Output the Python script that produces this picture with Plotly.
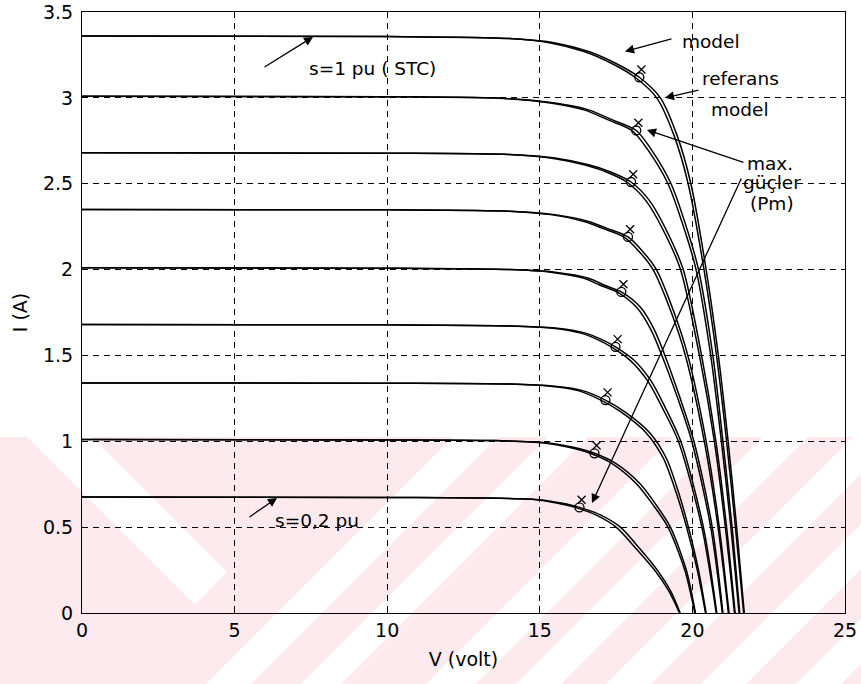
import plotly.graph_objects as go

# Irradiance levels (per unit of STC)
S_LEVELS = [0.2, 0.3, 0.4, 0.5, 0.6, 0.7, 0.8, 0.9, 1.0]

# Current samples of each I-V curve (A)
CURVE_I = [
    [0.675, 0.673, 0.670, 0.660, 0.640, 0.615, 0.570, 0.500, 0.370, 0.250, 0.130, 0.0],
    [1.01, 1.008, 1.004, 0.99, 0.965, 0.93, 0.87, 0.75, 0.62, 0.50, 0.25, 0.0],
    [1.34, 1.338, 1.333, 1.32, 1.295, 1.24, 1.17, 1.05, 0.90, 0.70, 0.50, 0.25, 0.0],
    [1.68, 1.678, 1.672, 1.66, 1.63, 1.595, 1.55, 1.47, 1.35, 1.20, 1.00, 0.50, 0.0],
    [2.01, 2.008, 2.00, 1.985, 1.95, 1.91, 1.87, 1.78, 1.65, 1.50, 1.25, 1.00, 0.50, 0.0],
    [2.35, 2.348, 2.34, 2.32, 2.28, 2.24, 2.19, 2.10, 2.00, 1.75, 1.50, 1.00, 0.50, 0.0],
    [2.68, 2.678, 2.67, 2.65, 2.61, 2.57, 2.51, 2.40, 2.21, 2.00, 1.50, 1.00, 0.50, 0.0],
    [3.01, 3.007, 2.995, 2.97, 2.93, 2.87, 2.81, 2.70, 2.50, 2.21, 2.00, 1.50, 1.00, 0.50, 0.0],
    [3.36, 3.357, 3.345, 3.32, 3.27, 3.20, 3.12, 3.00, 2.78, 2.50, 2.00, 1.50, 1.00, 0.50, 0.0],
]

# Voltage samples, "model"
MODEL_V = [
    [0, 10, 13, 15.0, 15.7, 16.3, 17.0, 17.64, 18.3, 18.85, 19.28, 19.6],
    [0, 10, 13.5, 15.3, 16.1, 16.79, 17.5, 18.3, 18.85, 19.28, 19.8, 20.1],
    [0, 10, 14, 15.5, 16.4, 17.15, 17.8, 18.6, 19.15, 19.55, 19.87, 20.2, 20.45],
    [0, 10, 14, 15.5, 16.5, 17.0, 17.48, 18.1, 18.65, 19.1, 19.62, 20.36, 20.8],
    [0, 10, 14, 15.5, 16.6, 17.1, 17.67, 18.3, 18.75, 19.1, 19.6, 20.05, 20.65, 21.0],
    [0, 10, 14, 15.5, 16.6, 17.2, 17.89, 18.4, 18.82, 19.4, 19.85, 20.45, 20.88, 21.2],
    [0, 10, 14, 15.5, 16.6, 17.3, 17.99, 18.6, 19.2, 19.7, 20.3, 20.77, 21.12, 21.4],
    [0, 10, 14, 15.5, 16.6, 17.4, 18.16, 18.65, 19.3, 19.87, 20.2, 20.67, 21.0, 21.3, 21.55],
    [0, 10, 14, 15.5, 16.6, 17.5, 18.26, 18.95, 19.5, 19.95, 20.45, 20.85, 21.17, 21.45, 21.7],
]

# Voltage samples, "referans model"
REF_V = [
    [0, 10, 13, 14.9, 15.55, 16.15, 16.85, 17.5, 18.18, 18.76, 19.22, 19.58],
    [0, 10, 13.5, 15.15, 15.95, 16.65, 17.37, 18.18, 18.75, 19.2, 19.75, 20.08],
    [0, 10, 14, 15.35, 16.25, 17.0, 17.67, 18.48, 19.05, 19.47, 19.81, 20.16, 20.43],
    [0, 10, 14, 15.35, 16.35, 16.86, 17.34, 17.97, 18.54, 19.0, 19.54, 20.31, 20.78],
    [0, 10, 14, 15.35, 16.45, 16.96, 17.53, 18.17, 18.64, 19.0, 19.52, 19.98, 20.6, 20.98],
    [0, 10, 14, 15.35, 16.45, 17.06, 17.75, 18.28, 18.71, 19.31, 19.77, 20.39, 20.84, 21.18],
    [0, 10, 14, 15.35, 16.45, 17.16, 17.85, 18.48, 19.1, 19.61, 20.23, 20.72, 21.08, 21.38],
    [0, 10, 14, 15.35, 16.45, 17.26, 18.02, 18.53, 19.2, 19.78, 20.12, 20.6, 20.95, 21.26, 21.53],
    [0, 10, 14, 15.35, 16.45, 17.36, 18.12, 18.83, 19.4, 19.86, 20.38, 20.79, 21.12, 21.41, 21.68],
]

# Maximum power points
MPP_O_V = [16.3, 16.79, 17.15, 17.48, 17.67, 17.89, 17.99, 18.16, 18.26]
MPP_O_I = [0.615, 0.93, 1.24, 1.55, 1.87, 2.19, 2.51, 2.81, 3.12]
MPP_X_V = [16.37, 16.86, 17.22, 17.55, 17.74, 17.96, 18.06, 18.23, 18.33]
MPP_X_I = [0.66, 0.975, 1.285, 1.595, 1.915, 2.235, 2.555, 2.855, 3.165]

X_TICKS = [0, 5, 10, 15, 20, 25]
Y_TICKS = [0, 0.5, 1, 1.5, 2, 2.5, 3, 3.5]

W, H = 861, 684
PL, PR, PT, PB = 82, 845, 12, 613
FONT = "DejaVu Sans"
PINK = "#fdeaee"


def paper_x(x):
    return (x - PL) / (PR - PL)


def paper_y(y):
    return (PB - y) / (PB - PT)


def poly(points):
    d = "M " + " L ".join(f"{paper_x(x):.5f},{paper_y(y):.5f}" for x, y in points) + " Z"
    return dict(type="path", xref="paper", yref="paper", path=d,
                fillcolor="white", line=dict(width=0), layer="below")


fig = go.Figure()

for s, ii, vm, vr in zip(S_LEVELS, CURVE_I, MODEL_V, REF_V):
    fig.add_trace(go.Scatter(x=vm, y=ii, mode="lines", name=f"model s={s}",
                             line=dict(color="black", width=1.5, shape="spline", smoothing=0.8),
                             showlegend=False))
    fig.add_trace(go.Scatter(x=vr, y=ii, mode="lines", name=f"referans s={s}",
                             line=dict(color="black", width=1.5, shape="spline", smoothing=0.8),
                             showlegend=False))

fig.add_trace(go.Scatter(x=MPP_O_V, y=MPP_O_I, mode="markers", showlegend=False,
                         marker=dict(symbol="circle-open", size=9, color="black",
                                     line=dict(width=1.3))))
fig.add_trace(go.Scatter(x=MPP_X_V, y=MPP_X_I, mode="markers", showlegend=False,
                         marker=dict(symbol="x-thin-open", size=8, color="black",
                                     line=dict(width=1.3))))

# faint diagonal background band pattern in the lower part of the page
shapes = [dict(type="rect", xref="paper", yref="paper",
               x0=paper_x(0), x1=paper_x(W), y0=paper_y(437), y1=paper_y(H),
               fillcolor=PINK, line=dict(width=0), layer="below")]
shapes.append(poly([(27, 437), (92, 437), (227, 572), (195, 605)]))
for c1, c2 in [(890, 935), (985, 1025), (1110, 1160), (1200, 1245),
               (1290, 1335), (1385, 1430), (1480, 1525)]:
    shapes.append(poly([(c1 - 437, 437), (c2 - 437, 437), (c2 - H, H), (c1 - H, H)]))

tick_font = dict(family=FONT, size=19, color="black")
ann_font = dict(family=FONT, size=18.5, color="black")


def label(text, x, y, xanchor="left"):
    fig.add_annotation(x=x, y=y, text=text, showarrow=False, xanchor=xanchor,
                       yanchor="middle", font=ann_font)


def arrow(x, y, ax, ay):
    fig.add_annotation(x=x, y=y, ax=ax, ay=ay, text="", showarrow=True,
                       arrowhead=2, arrowsize=1.4, arrowwidth=1.3, arrowcolor="black")


label("s=1 pu ( STC)", 7.37, 3.17)
arrow(7.57, 3.355, -50, 31)
label("s=0,2 pu", 6.26, 0.54)
arrow(6.39, 0.67, -29, 20)
label("model", 19.6, 3.33)
arrow(17.79, 3.27, 48, -13)
label("referans", 20.25, 3.115)
label("model", 20.55, 2.93)
arrow(19.1, 3.0, 35, -8)
label("max.", 22.55, 2.62, "center")
label("güçler", 22.6, 2.505, "center")
label("(Pm)", 22.6, 2.385, "center")
arrow(18.51, 2.813, 98, 33)
arrow(16.71, 0.64, 150, -326)

axis_common = dict(showline=True, linecolor="black", linewidth=1.2, mirror=True,
                   ticks="inside", ticklen=5, tickcolor="black", automargin=False,
                   showgrid=True, gridcolor="black", gridwidth=1.1, griddash="6px,5px",
                   zeroline=False, tickfont=tick_font)

fig.update_xaxes(range=[0, 25], tickvals=X_TICKS,
                 title=dict(text="V (volt)", font=tick_font, standoff=12), **axis_common)
fig.update_yaxes(range=[0, 3.5], tickvals=Y_TICKS, ticklabelstandoff=4,
                 title=dict(text="I (A)", font=tick_font, standoff=10), **axis_common)

fig.update_layout(width=W, height=H, margin=dict(l=PL, r=W - PR, t=PT, b=H - PB),
                  paper_bgcolor="white", plot_bgcolor="rgba(0,0,0,0)",
                  shapes=shapes, showlegend=False)

fig.write_html("out.html")
